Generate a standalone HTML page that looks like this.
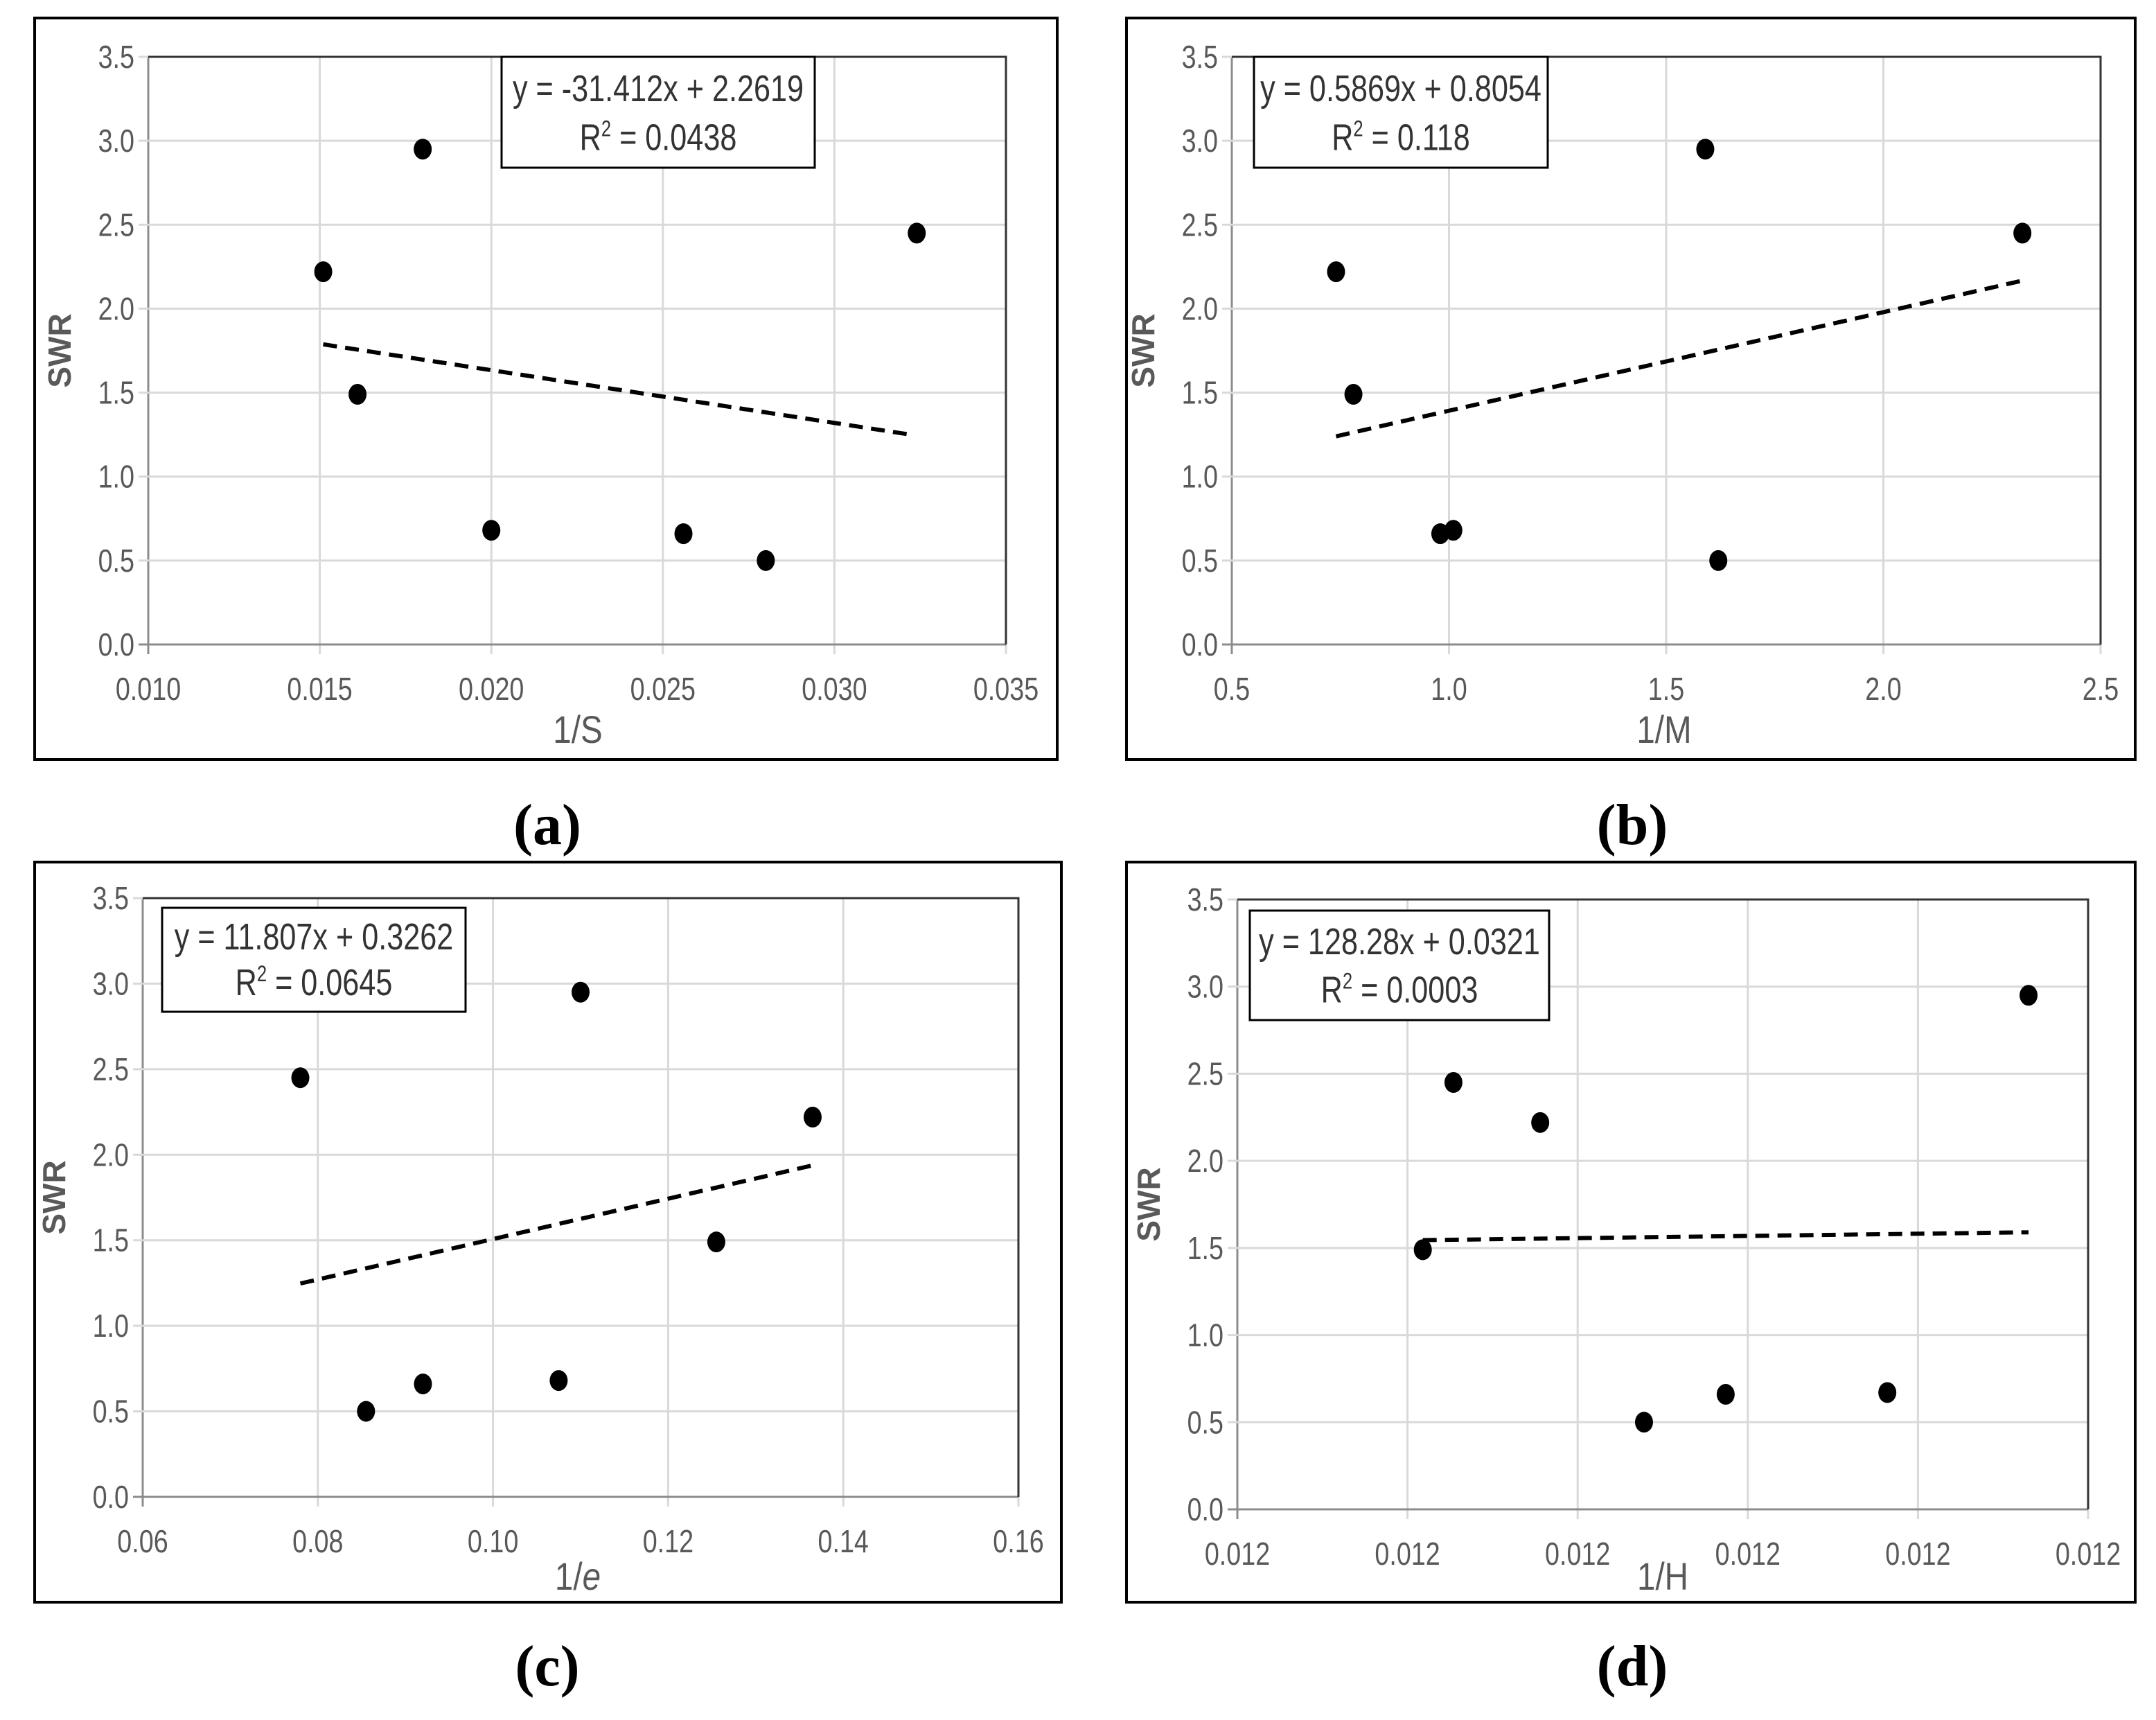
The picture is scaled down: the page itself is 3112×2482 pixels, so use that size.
<!DOCTYPE html>
<html><head><meta charset="utf-8"><style>
html,body{margin:0;padding:0;background:#fff;}
svg{display:block;}
</style></head><body>
<svg id="fig" width="3112" height="2482" viewBox="0 0 3112 2482" xmlns="http://www.w3.org/2000/svg" font-family="Liberation Sans, sans-serif">
<rect width="3112" height="2482" fill="#fff"/>
</svg>
<script>
// ---- data (a) ----
const aX = [0.0151, 0.0161, 0.0180, 0.0200, 0.0256, 0.0280, 0.0324];
const aY = [2.22, 1.49, 2.95, 0.68, 0.66, 0.50, 2.45];
const aXTicks = [0.010, 0.015, 0.020, 0.025, 0.030, 0.035];
const aXTickLabels = ["0.010","0.015","0.020","0.025","0.030","0.035"];
const aTrend = [0.0151, 0.0322];
const aSlope = -31.412, aIntercept = 2.2619;
// ---- data (b) ----
const bX = [0.74, 0.78, 0.98, 1.01, 1.59, 1.62, 2.32];
const bY = [2.22, 1.49, 0.66, 0.68, 2.95, 0.50, 2.45];
const bXTicks = [0.5, 1.0, 1.5, 2.0, 2.5];
const bXTickLabels = ["0.5","1.0","1.5","2.0","2.5"];
const bTrend = [0.74, 2.32];
const bSlope = 0.5869, bIntercept = 0.8054;
// ---- data (c) ----
const cX = [0.078, 0.0855, 0.092, 0.1075, 0.110, 0.1255, 0.1365];
const cY = [2.45, 0.50, 0.66, 0.68, 2.95, 1.49, 2.22];
const cXTicks = [0.06, 0.08, 0.10, 0.12, 0.14, 0.16];
const cXTickLabels = ["0.06","0.08","0.10","0.12","0.14","0.16"];
const cTrend = [0.078, 0.1365];
const cSlope = 11.807, cIntercept = 0.3262;
// ---- data (d) (x in tick-index units) ----
const dX = [1.09, 1.27, 1.78, 2.39, 2.87, 3.82, 4.65];
const dY = [1.49, 2.45, 2.22, 0.50, 0.66, 0.67, 2.95];
const dXTicks = [0, 1, 2, 3, 4, 5];
const dXTickLabels = ["0.012","0.012","0.012","0.012","0.012","0.012"];
const dTrendX = [1.09, 4.65];
const dTrendY = [1.545, 1.59];
// shared y axis
const yTicks = [0.0, 0.5, 1.0, 1.5, 2.0, 2.5, 3.0, 3.5];
const yTickLabels = ["0.0","0.5","1.0","1.5","2.0","2.5","3.0","3.5"];

const NS = "http://www.w3.org/2000/svg";
const svg = document.getElementById('fig');
function mk(tag, attrs, parent, text){
  const e = document.createElementNS(NS, tag);
  for (const k in attrs) e.setAttribute(k, attrs[k]);
  if (text !== undefined) e.textContent = text;
  (parent||svg).appendChild(e);
  return e;
}
// condensed text helper
function ctext(x, y, sx, attrs, parent, text){
  attrs.x = 0; attrs.y = 0;
  attrs.transform = `translate(${x},${y}) scale(${sx},1)`;
  return mk('text', attrs, parent, text);
}
function panel(id, cfg){
  const g = mk('g', {});
  
  
  const fr = mk('rect', {x:cfg.box[0], y:cfg.box[1], width:cfg.box[2]-cfg.box[0], height:cfg.box[3]-cfg.box[1], fill:'#fff', stroke:'#000', 'stroke-width':4}, g);
  
  
  const [px0, px1, py0, py1] = cfg.plot;
  const xMin = cfg.xTicks[0], xMax = cfg.xTicks[cfg.xTicks.length-1];
  const sx = v => px0 + (v - xMin) / (xMax - xMin) * (px1 - px0);
  const sy = v => py0 + (v - 0) / 3.5 * (py1 - py0);
  cfg.xTicks.forEach((t, i) => {
    const l = mk('line', {x1:sx(t), x2:sx(t), y1:py1, y2:py0 + 14, stroke: i===0 ? '#8c8c8c' : '#d9d9d9', 'stroke-width':3}, g);
    
    
    const tl = ctext(sx(t), py0 + 80, 0.82, {'font-size':46, fill:'#595959', 'text-anchor':'middle'}, g, cfg.xLabels[i]);
    
    
  });
  yTicks.forEach((t, i) => {
    const l = mk('line', {x1:px0 - 14, x2:px1, y1:sy(t), y2:sy(t), stroke: i===0 ? '#8c8c8c' : '#d9d9d9', 'stroke-width':3}, g);
    
    
    const tl = ctext(px0 - 20, sy(t) + 16, 0.82, {'font-size':46, fill:'#595959', 'text-anchor':'end'}, g, yTickLabels[i]);
    
    
  });
  const pb = mk('polyline', {points:`${px0},${py1} ${px1},${py1} ${px1},${py0}`, fill:'none', stroke:'#333', 'stroke-width':3}, g);
  
  
  const xt = ctext(cfg.xTitlePos[0], cfg.xTitlePos[1], 0.85, {'font-size':56, fill:'#595959', 'text-anchor':'middle'}, g);
  
  
  if (cfg.italic) { mk('tspan', {}, xt, '1/'); mk('tspan', {'font-style':'italic'}, xt, cfg.xTitle.slice(2)); }
  else xt.textContent = cfg.xTitle;
  const yc = (py0 + py1) / 2;
  const yt = mk('text', {x:0, y:0, 'font-size':46, 'font-weight':'bold', fill:'#595959', 'text-anchor':'middle', transform:`translate(${px0 - 112},${yc}) rotate(-90)`}, g, 'SWR');
  
  
  const tr = mk('line', {x1:sx(cfg.tx[0]), y1:sy(cfg.ty[0]), x2:sx(cfg.tx[1]), y2:sy(cfg.ty[1]), stroke:'#000', 'stroke-width':6, 'stroke-dasharray':'20 12'}, g);
  
  
  cfg.x.forEach((v, i) => {
    const p = mk('ellipse', {cx:sx(v), cy:sy(cfg.y[i]), rx:13, ry:15, fill:'#000'}, g);
    
    
  });
  const eb = cfg.eqBox;
  const er = mk('rect', {x:eb[0], y:eb[1], width:eb[2]-eb[0], height:eb[3]-eb[1], fill:'#fff', stroke:'#000', 'stroke-width':3}, g);
  
  
  const cxm = (eb[0] + eb[2]) / 2, h = eb[3] - eb[1];
  const e1 = ctext(cxm, eb[1] + h*0.4, 0.8, {'font-size':54, fill:'#333', 'text-anchor':'middle'}, g, cfg.eq);
  
  
  const e2 = ctext(cxm, eb[1] + h*0.84, 0.8, {'font-size':54, fill:'#333', 'text-anchor':'middle'}, g);
  
  
  mk('tspan', {}, e2, 'R');
  mk('tspan', {'font-size':32, dy:-20}, e2, '2');
  mk('tspan', {dy:20}, e2, ' = ' + cfg.r2);
  const pl = mk('text', {x:cfg.lab[0], y:cfg.lab[1], 'font-size':84, 'font-family':'Liberation Serif, serif', 'font-weight':'bold', fill:'#000', 'text-anchor':'middle'}, svg, '(' + id + ')');
  
  
}
const lin = (m, b, xs) => xs.map(x => m * x + b);
panel('a', {box:[50,26,1526,1096], plot:[214,1452,930,82], xTicks:aXTicks, xLabels:aXTickLabels, x:aX, y:aY, tx:aTrend, ty:lin(aSlope,aIntercept,aTrend), eqBox:[724,82,1176,242], eq:'y = -31.412x + 2.2619', r2:'0.0438', xTitle:'1/S', xTitlePos:[834,1072], lab:[790,1218]});
panel('b', {box:[1626,26,3082,1096], plot:[1778,3032,930,82], xTicks:bXTicks, xLabels:bXTickLabels, x:bX, y:bY, tx:bTrend, ty:lin(bSlope,bIntercept,bTrend), eqBox:[1810,82,2234,242], eq:'y = 0.5869x + 0.8054', r2:'0.118', xTitle:'1/M', xTitlePos:[2402,1072], lab:[2356,1218]});
panel('c', {box:[50,1244,1532,2312], plot:[206,1470,2160,1296], xTicks:cXTicks, xLabels:cXTickLabels, x:cX, y:cY, tx:cTrend, ty:lin(cSlope,cIntercept,cTrend), eqBox:[234,1310,672,1460], eq:'y = 11.807x + 0.3262', r2:'0.0645', xTitle:'1/e', italic:true, xTitlePos:[834,2294], lab:[790,2432]});
panel('d', {box:[1626,1244,3082,2312], plot:[1786,3014,2178,1298], xTicks:dXTicks, xLabels:dXTickLabels, x:dX, y:dY, tx:dTrendX, ty:dTrendY, eqBox:[1804,1314,2236,1472], eq:'y = 128.28x + 0.0321', r2:'0.0003', xTitle:'1/H', xTitlePos:[2400,2294], lab:[2356,2432]});
</script>
</body></html>
